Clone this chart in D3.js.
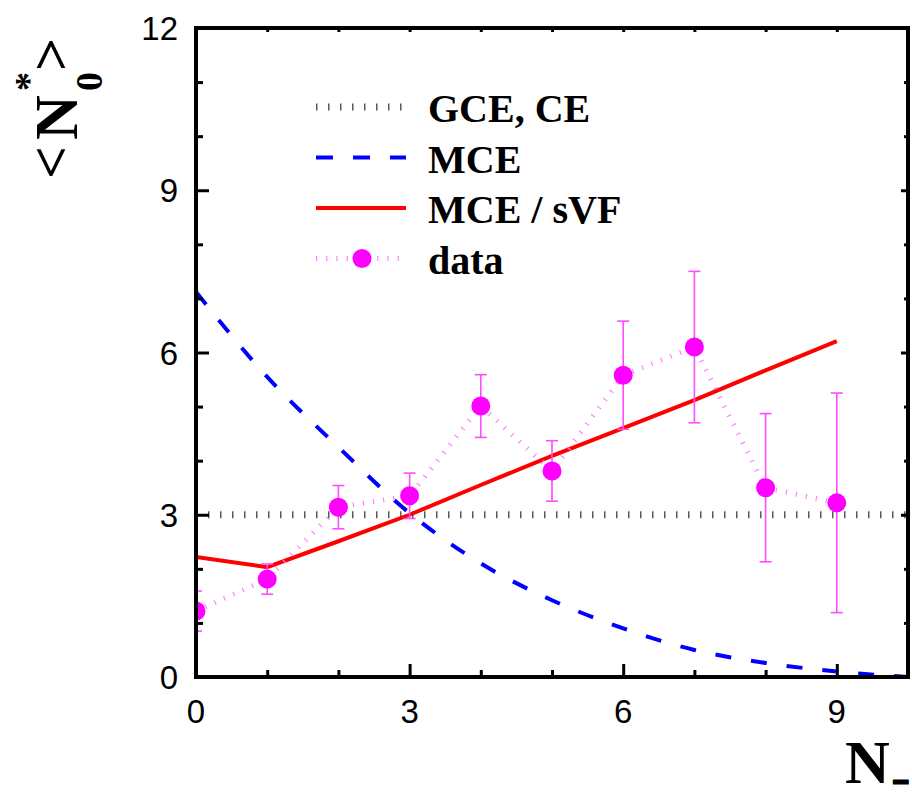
<!DOCTYPE html>
<html>
<head>
<meta charset="utf-8">
<script src="https://cdn.jsdelivr.net/npm/d3@7/dist/d3.min.js"></script>
<style>
  body { margin: 0; background: #fff; }
  .tick-label { font-family: "Liberation Sans", Arial, sans-serif; font-size: 33px; fill: #000; }
  .serif-b { font-family: "Liberation Serif", "Times New Roman", serif; font-weight: bold; fill: #000; }
</style>
</head>
<body>
<div id="chart"></div>
<script>
// chart size
var svgWidth = 912;
var svgHeight = 798;
var margin = { top: 28, right: 4, bottom: 121, left: 196 };
var width = svgWidth - margin.left - margin.right;
var height = svgHeight - margin.top - margin.bottom;

// ---- data ----
var nMinus = [0, 1, 2, 3, 4, 5, 6, 7, 8, 9];
var dataMean = [1.22, 1.81, 3.14, 3.35, 5.01, 3.81, 5.58, 6.10, 3.50, 3.22];
var dataErr = [0.37, 0.28, 0.40, 0.42, 0.58, 0.56, 1.00, 1.40, 1.37, 2.03];

var sVF = [2.22, 2.03, 2.51, 3.00, 3.55, 4.09, 4.60, 5.12, 5.67, 6.21]; // MCE / sVF

var mceX = [0, 1, 2, 3, 4, 5, 6, 7, 8, 9, 10];
var mce = [7.12, 5.55, 4.25, 3.03, 2.10, 1.42, 0.90, 0.50, 0.26, 0.10, 0.0];

var gceX = [0, 10];
var gce = [3, 3]; // GCE, CE

var xTicks = [0, 3, 6, 9];
var yTicks = [0, 3, 6, 9, 12];

var legendNames = ["GCE, CE", "MCE", "MCE / sVF", "data"];

// colours
var cGray = "#5a5a5a", cBlue = "#0000ff", cRed = "#ff0000", cMag = "#ff00ff";

var svg = d3.select("#chart").append("svg")
  .attr("width", svgWidth)
  .attr("height", svgHeight);

var chartGroup = svg.append("g")
  .attr("transform", `translate(${margin.left}, ${margin.top})`);

var x = d3.scaleLinear().domain([0, 10]).range([0, width]);
var y = d3.scaleLinear().domain([0, 12]).range([height, 0]);

svg.append("defs").append("clipPath").attr("id", "plotclip")
  .append("rect").attr("x", 0).attr("y", -2).attr("width", width).attr("height", height + 4);

var plot = chartGroup.append("g").attr("clip-path", "url(#plotclip)");

var line = d3.line().x(d => x(d[0])).y(d => y(d[1]));

// GCE, CE dotted line
plot.append("path")
  .datum(d3.zip(gceX, gce))
  .attr("d", line)
  .attr("fill", "none")
  .attr("stroke", cGray)
  .attr("stroke-width", 7)
  .attr("stroke-dasharray", "1.5,10.5");

// MCE dashed
plot.append("path")
  .datum(d3.zip(mceX, mce))
  .attr("d", line.curve(d3.curveMonotoneX))
  .attr("fill", "none")
  .attr("stroke", cBlue)
  .attr("stroke-width", 4)
  .attr("stroke-dasharray", "16,20");
line.curve(d3.curveLinear);

// MCE / sVF solid
plot.append("path")
  .datum(d3.zip(nMinus, sVF))
  .attr("d", line)
  .attr("fill", "none")
  .attr("stroke", cRed)
  .attr("stroke-width", 4);

// data dotted connector
plot.append("path")
  .datum(d3.zip(nMinus, dataMean))
  .attr("d", line)
  .attr("fill", "none")
  .attr("stroke", "#ff80ff")
  .attr("stroke-width", 5)
  .attr("stroke-dasharray", "1.2,9");

// error bars
var pts = d3.zip(nMinus, dataMean, dataErr);
var eb = plot.selectAll(".err").data(pts).enter().append("g").attr("class", "err")
  .attr("stroke", "#ff4cff").attr("stroke-width", 1.6);
eb.append("line")
  .attr("x1", d => x(d[0])).attr("x2", d => x(d[0]))
  .attr("y1", d => y(d[1] - d[2])).attr("y2", d => y(d[1] + d[2]));
eb.append("line")
  .attr("x1", d => x(d[0]) - 6).attr("x2", d => x(d[0]) + 6)
  .attr("y1", d => y(d[1] + d[2])).attr("y2", d => y(d[1] + d[2]));
eb.append("line")
  .attr("x1", d => x(d[0]) - 6).attr("x2", d => x(d[0]) + 6)
  .attr("y1", d => y(d[1] - d[2])).attr("y2", d => y(d[1] - d[2]));

// points
plot.selectAll(".pt").data(pts).enter().append("circle")
  .attr("cx", d => x(d[0]))
  .attr("cy", d => y(d[1]))
  .attr("r", 9.5)
  .attr("fill", cMag);

// ---- axes (frame with inward ticks) ----
var bottomAxis = d3.axisBottom(x).tickValues(d3.range(0, 11)).tickSize(-7).tickFormat("");
var leftAxis = d3.axisLeft(y).tickValues(d3.range(0, 13)).tickSize(-7).tickFormat("");
var topAxis = d3.axisTop(x).tickValues(d3.range(0, 11)).tickSize(-4).tickFormat("");
var rightAxis = d3.axisRight(y).tickValues(d3.range(0, 13)).tickSize(-4).tickFormat("");

function styleAxis(g, majorLen, dir) {
  g.select(".domain").remove();
  g.selectAll(".tick line").attr("stroke", "#000").attr("stroke-width", 3);
  g.selectAll(".tick").filter(d => d % 3 === 0).select("line")
    .each(function() {
      var sel = d3.select(this);
      if (dir === "x") sel.attr("x2", majorLen); else sel.attr("y2", majorLen);
    });
}

chartGroup.append("g").attr("transform", `translate(0, ${height})`).call(bottomAxis)
  .call(g => styleAxis(g, -13, "y"));
chartGroup.append("g").call(leftAxis)
  .call(g => styleAxis(g, 13, "x"));
chartGroup.append("g").call(topAxis)
  .call(g => styleAxis(g, 4, "y"));
chartGroup.append("g").attr("transform", `translate(${width}, 0)`).call(rightAxis)
  .call(g => styleAxis(g, -7, "x"));

chartGroup.append("rect")
  .attr("x", 0).attr("y", 0).attr("width", width).attr("height", height)
  .attr("fill", "none").attr("stroke", "#000").attr("stroke-width", 4);

// tick labels
chartGroup.selectAll(".xl").data(xTicks).enter().append("text")
  .attr("class", "tick-label")
  .attr("x", d => x(d)).attr("y", height + 46)
  .attr("text-anchor", "middle")
  .text(d => d);

chartGroup.selectAll(".yl").data(yTicks).enter().append("text")
  .attr("class", "tick-label")
  .attr("x", -18).attr("y", d => y(d) + 12)
  .attr("text-anchor", "end")
  .text(d => d);

// ---- legend ----
var legend = svg.append("g").attr("transform", "translate(316, 107)");
var rowH = 50.5;
legendNames.forEach(function(name, i) {
  var row = legend.append("g").attr("transform", `translate(0, ${i * rowH})`);
  var ln = row.append("line").attr("x1", 0).attr("x2", 90).attr("y1", 0).attr("y2", 0).attr("fill", "none");
  if (i === 0) ln.attr("stroke", cGray).attr("stroke-width", 7).attr("stroke-dasharray", "1.5,10.5");
  if (i === 1) ln.attr("stroke", cBlue).attr("stroke-width", 4).attr("stroke-dasharray", "17,20");
  if (i === 2) ln.attr("stroke", cRed).attr("stroke-width", 4);
  if (i === 3) {
    ln.attr("stroke", "#ff80ff").attr("stroke-width", 5).attr("stroke-dasharray", "1.2,9");
    row.append("circle").attr("cx", 46).attr("cy", 0).attr("r", 9.5).attr("fill", cMag);
  }
  row.append("text").attr("class", "serif-b")
    .attr("x", 112).attr("y", 15)
    .style("font-size", "40px")
    .text(name);
});

// ---- axis titles ----
// y title: <N*0> rotated
var yt = svg.append("g").attr("transform", "translate(77, 177) rotate(-90)");
yt.append("text").attr("class", "serif-b").attr("x", -2).attr("y", -7).style("font-size", "58px").text("<");
yt.append("text").attr("class", "serif-b").attr("x", 37).attr("y", 0).style("font-size", "62px").text("N");
yt.append("text").attr("class", "serif-b").attr("x", 86).attr("y", -36).style("font-size", "38px").text("*");
yt.append("text").attr("class", "serif-b").attr("x", 86).attr("y", 25).style("font-size", "38px").text("0");
yt.append("text").attr("class", "serif-b").attr("x", 106).attr("y", -7).style("font-size", "58px").text(">");

// x title: N−
svg.append("text").attr("class", "serif-b")
  .attr("x", 845).attr("y", 783)
  .style("font-size", "62px")
  .text("N");
svg.append("text").attr("class", "serif-b")
  .attr("x", 893).attr("y", 791)
  .style("font-size", "28px")
  .attr("stroke", "#000").attr("stroke-width", 3)
  .text("−");
</script>
</body>
</html>
